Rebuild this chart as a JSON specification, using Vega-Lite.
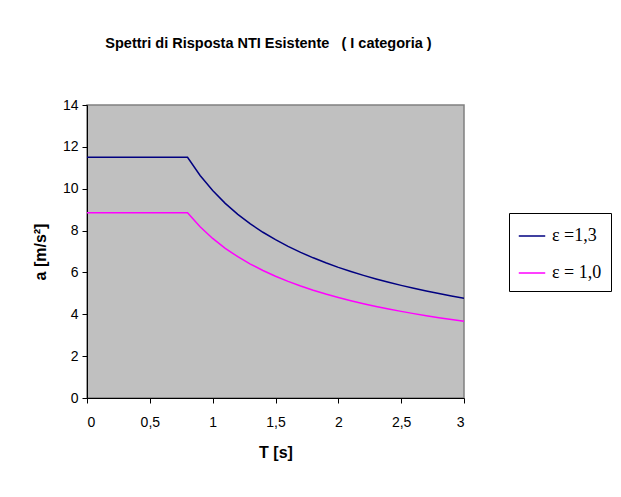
{
  "$schema": "https://vega.github.io/schema/vega-lite/v6.json",
  "autosize": "none",
  "width": 377,
  "height": 293,
  "padding": {"left": 87, "top": 105, "right": 157, "bottom": 99},
  "background": "white",
  "title": {
    "text": "Spettri di Risposta NTI Esistente \u00a0\u00a0( I categoria )",
    "font": "Liberation Sans",
    "fontSize": 14.5,
    "fontWeight": "bold",
    "color": "black",
    "anchor": "middle",
    "dx": -7,
    "offset": 47
  },
  "data": {
    "values": [
      {"T": 0.0, "a": 11.5, "serie": "ε =1,3"},
      {"T": 0.8, "a": 11.5, "serie": "ε =1,3"},
      {"T": 0.9, "a": 10.632, "serie": "ε =1,3"},
      {"T": 1.0, "a": 9.911, "serie": "ε =1,3"},
      {"T": 1.1, "a": 9.3, "serie": "ε =1,3"},
      {"T": 1.2, "a": 8.776, "serie": "ε =1,3"},
      {"T": 1.3, "a": 8.32, "serie": "ε =1,3"},
      {"T": 1.4, "a": 7.919, "serie": "ε =1,3"},
      {"T": 1.5, "a": 7.563, "serie": "ε =1,3"},
      {"T": 1.6, "a": 7.245, "serie": "ε =1,3"},
      {"T": 1.7, "a": 6.958, "serie": "ε =1,3"},
      {"T": 1.8, "a": 6.698, "serie": "ε =1,3"},
      {"T": 1.9, "a": 6.46, "serie": "ε =1,3"},
      {"T": 2.0, "a": 6.243, "serie": "ε =1,3"},
      {"T": 2.1, "a": 6.044, "serie": "ε =1,3"},
      {"T": 2.2, "a": 5.859, "serie": "ε =1,3"},
      {"T": 2.3, "a": 5.688, "serie": "ε =1,3"},
      {"T": 2.4, "a": 5.528, "serie": "ε =1,3"},
      {"T": 2.5, "a": 5.381, "serie": "ε =1,3"},
      {"T": 2.6, "a": 5.242, "serie": "ε =1,3"},
      {"T": 2.7, "a": 5.111, "serie": "ε =1,3"},
      {"T": 2.8, "a": 4.989, "serie": "ε =1,3"},
      {"T": 2.9, "a": 4.874, "serie": "ε =1,3"},
      {"T": 3.0, "a": 4.765, "serie": "ε =1,3"},
      {"T": 0.0, "a": 8.846, "serie": "ε = 1,0"},
      {"T": 0.8, "a": 8.846, "serie": "ε = 1,0"},
      {"T": 0.9, "a": 8.178, "serie": "ε = 1,0"},
      {"T": 1.0, "a": 7.624, "serie": "ε = 1,0"},
      {"T": 1.1, "a": 7.154, "serie": "ε = 1,0"},
      {"T": 1.2, "a": 6.751, "serie": "ε = 1,0"},
      {"T": 1.3, "a": 6.4, "serie": "ε = 1,0"},
      {"T": 1.4, "a": 6.091, "serie": "ε = 1,0"},
      {"T": 1.5, "a": 5.818, "serie": "ε = 1,0"},
      {"T": 1.6, "a": 5.573, "serie": "ε = 1,0"},
      {"T": 1.7, "a": 5.352, "serie": "ε = 1,0"},
      {"T": 1.8, "a": 5.152, "serie": "ε = 1,0"},
      {"T": 1.9, "a": 4.969, "serie": "ε = 1,0"},
      {"T": 2.0, "a": 4.802, "serie": "ε = 1,0"},
      {"T": 2.1, "a": 4.649, "serie": "ε = 1,0"},
      {"T": 2.2, "a": 4.507, "serie": "ε = 1,0"},
      {"T": 2.3, "a": 4.375, "serie": "ε = 1,0"},
      {"T": 2.4, "a": 4.253, "serie": "ε = 1,0"},
      {"T": 2.5, "a": 4.139, "serie": "ε = 1,0"},
      {"T": 2.6, "a": 4.032, "serie": "ε = 1,0"},
      {"T": 2.7, "a": 3.931, "serie": "ε = 1,0"},
      {"T": 2.8, "a": 3.837, "serie": "ε = 1,0"},
      {"T": 2.9, "a": 3.749, "serie": "ε = 1,0"},
      {"T": 3.0, "a": 3.665, "serie": "ε = 1,0"}
    ]
  },
  "mark": {"type": "line", "strokeWidth": 1.5, "clip": true},
  "encoding": {
    "x": {
      "field": "T",
      "type": "quantitative",
      "scale": {"domain": [0, 3], "nice": false, "zero": false},
      "axis": {
        "title": "T [s]",
        "values": [0, 0.5, 1, 1.5, 2, 2.5, 3],
        "labelExpr": "replace(format(datum.value, '~g'), '.', ',')",
        "grid": false,
        "labelPadding": 12,
        "titlePadding": 15
      }
    },
    "y": {
      "field": "a",
      "type": "quantitative",
      "scale": {"domain": [0, 14], "nice": false},
      "axis": {
        "title": "a  [m/s²]",
        "values": [0, 2, 4, 6, 8, 10, 12, 14],
        "grid": false,
        "labelPadding": 4,
        "titlePadding": 14
      }
    },
    "color": {
      "field": "serie",
      "type": "nominal",
      "scale": {"domain": ["ε =1,3", "ε = 1,0"], "range": ["#000080", "#FF00FF"]},
      "legend": {
        "title": null,
        "orient": "none",
        "legendX": 422,
        "legendY": 108,
        "symbolType": "stroke",
        "symbolSize": 700,
        "symbolStrokeWidth": 1.5,
        "labelFont": "Liberation Serif",
        "labelFontSize": 18,
        "labelColor": "black",
        "rowPadding": 14,
        "padding": 9,
        "strokeColor": "black",
        "fillColor": "white",
        "labelOffset": 6
      }
    }
  },
  "config": {
    "view": {"fill": "#C0C0C0", "stroke": "#808080", "strokeWidth": 1.5},
    "axis": {
      "labelFont": "Liberation Sans",
      "labelFontSize": 14,
      "labelColor": "black",
      "titleFont": "Liberation Sans",
      "titleFontSize": 16,
      "titleFontWeight": "bold",
      "titleColor": "black",
      "domainColor": "black",
      "tickColor": "black",
      "tickSize": 5
    }
  }
}
